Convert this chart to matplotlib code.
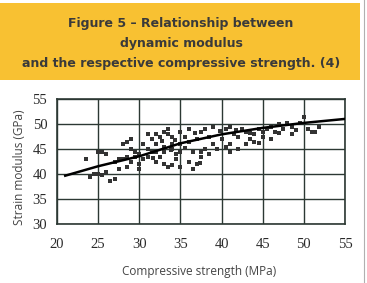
import matplotlib.pyplot as plt
from matplotlib.patches import Rectangle
from matplotlib.lines import Line2D

# scatter points (compressive strength MPa, modulus GPa)
strength = [23.5, 24.5, 24.0, 25.0, 25.5, 26.0, 25.0, 25.5, 26.5, 27.0, 27.5, 27.0, 26.0,
            28.0, 28.5, 29.0, 28.0, 28.5, 29.0, 29.5, 30.0, 30.0, 29.5, 30.0, 29.0, 28.5, 27.5,
            31.0, 31.5, 31.0, 31.5, 32.0, 32.5, 33.0, 33.5, 33.5, 34.0, 34.0, 34.5, 33.0, 32.5,
            32.0, 33.0, 33.5, 34.0, 34.5, 35.0, 35.0, 35.5, 35.0, 36.0, 36.0, 36.5, 36.0, 37.0,
            37.5, 37.0, 30.5, 31.0, 32.0, 33.0, 34.0, 35.0, 30.5, 32.0,
            37.5, 38.0, 38.5, 39.0, 39.0, 38.0, 37.5, 38.5, 39.5, 40.0, 36.5, 37.4,
            40.5, 41.0, 41.5, 42.0, 42.5, 43.0, 43.5, 44.0, 44.0, 44.5, 45.0, 41.0, 42.0, 40.5,
            43.0, 45.0, 41.0, 44.5,
            45.5, 46.0, 46.5, 47.0, 47.5, 48.0, 48.5, 49.0, 46.0, 47.0, 48.5,
            50.0, 50.5, 51.0, 51.3, 51.8, 49.5,
            33.8, 34.3, 35.6, 36.8, 31.7, 32.8, 39.8, 41.8, 43.4]
modulus = [43.0, 40.0, 39.5, 44.5, 44.5, 44.0, 40.0, 39.8, 38.7, 39.0, 41.0, 42.5, 40.5,
           46.0, 46.5, 47.0, 43.0, 43.5, 42.5, 43.5, 42.0, 41.0, 44.5, 44.0, 45.0, 41.5, 43.0,
           48.0, 47.0, 45.0, 44.5, 46.0, 47.5, 48.5, 49.0, 48.0, 47.5, 45.0, 44.0, 44.5, 43.5,
           42.5, 42.0, 41.5, 41.8, 43.0, 41.5, 46.0, 47.5, 48.5, 49.0, 46.5, 44.5, 42.5, 42.0,
           44.5, 47.0, 43.0, 43.5, 44.5, 45.5, 46.0, 44.5, 46.0, 48.0,
           48.5, 49.0, 47.5, 49.5, 46.0, 45.0, 43.5, 44.0, 45.0, 47.0, 41.0, 42.2,
           49.0, 49.5, 48.0, 47.5, 49.0, 48.5, 47.0, 46.5, 48.0, 49.0, 47.5, 46.0, 45.0, 45.5,
           46.0, 48.5, 44.5, 46.3,
           49.0, 49.5, 48.5, 50.0, 49.0, 50.2, 49.5, 48.8, 47.0, 48.2, 48.0,
           51.5, 49.0, 48.5, 48.5, 49.5, 50.3,
           44.8, 46.8, 45.2, 48.2, 43.2, 46.6, 48.6, 48.8, 48.2]

trend_x = [21, 25, 30, 35, 40, 45, 50, 55]
trend_y = [39.7, 41.6, 43.6, 46.2, 48.0, 49.3, 50.3, 51.1]

xticks = [20, 25, 30, 35, 40, 45, 50, 55]
yticks = [30, 35, 40, 45, 50, 55]

W, H = 367, 283
fig = plt.figure(figsize=(W / 100, H / 100), dpi=100)

# yellow title band
fig.patches.append(Rectangle((0, 1 - 80 / H), 360 / W, 77 / H, transform=fig.transFigure,
                             facecolor='#F8C132', edgecolor='none', zorder=0))
fig.lines.append(Line2D([364 / W, 364 / W], [0, 1], transform=fig.transFigure,
                        color='#b0b0b0', lw=0.8))
title_lines = ['Figure 5 \u2013 Relationship between', 'dynamic modulus',
               'and the respective compressive strength. (4)']
for i, t in enumerate(title_lines):
    fig.text(181 / W, 1 - (24 + 19.5 * i) / H, t, ha='center', va='center',
             fontsize=9, fontweight='bold', family='DejaVu Sans', color='#3a3a3a')

ax = fig.add_axes([57 / W, 1 - 224 / H, 288 / W, 124.5 / H])
grid_c = '#2c3833'
ax.scatter(strength, modulus, s=5, marker='s', color='#333333', linewidths=0, zorder=3)
ax.plot(trend_x, trend_y, color='black', lw=1.8, zorder=4)

ax.set_xlim(20, 55)
ax.set_ylim(30, 55)
ax.set_xticks(xticks)
ax.set_yticks(yticks)
ax.grid(True, color=grid_c, lw=1.0)
ax.set_axisbelow(True)
for s in ax.spines.values():
    s.set_color(grid_c)
    s.set_linewidth(1.2)
ax.tick_params(length=0, labelsize=10.5, labelcolor='#2a2a2a')
ax.tick_params(axis='x', pad=10)
ax.tick_params(axis='y', pad=7)
for lab in ax.get_xticklabels() + ax.get_yticklabels():
    lab.set_family('Liberation Serif')

ax.set_xlabel('Compressive strength (MPa)', family='Open Sans', fontsize=8.5,
              color='#444444', va='center')
ax.xaxis.set_label_coords((199 - 57) / 288, -(271 - 224) / 124.5)
ax.set_ylabel('Strain modulus (GPa)', family='Open Sans', fontsize=8.5,
              color='#444444', va='center')
ax.yaxis.set_label_coords(-(57 - 20) / 288, (224 - 167) / 124.5)

fig.savefig('out.png', dpi=100)
